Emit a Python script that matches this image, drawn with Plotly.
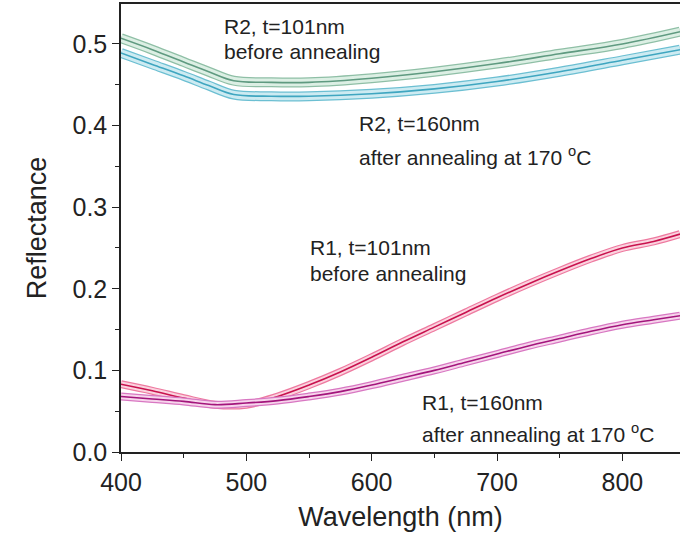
import plotly.graph_objects as go

# ---- data ----
wl_r2 = [400, 425, 450, 470, 490, 520, 550, 600, 650, 700, 750, 800, 846]
r2_before = [0.507, 0.493, 0.478, 0.466, 0.455, 0.453, 0.453, 0.458, 0.466, 0.476, 0.488, 0.500, 0.515]
r2_after = [0.489, 0.475, 0.461, 0.449, 0.438, 0.436, 0.436, 0.439, 0.445, 0.454, 0.466, 0.480, 0.493]

wl_r1 = [400, 425, 450, 475, 500, 525, 550, 575, 600, 625, 650, 675, 700, 725, 750, 775, 800, 825, 846]
r1_before = [0.083, 0.075, 0.066, 0.058, 0.058, 0.068, 0.082, 0.098, 0.116, 0.135, 0.153, 0.171,
             0.189, 0.206, 0.222, 0.237, 0.250, 0.258, 0.267]
r1_after = [0.068, 0.065, 0.062, 0.058, 0.060, 0.063, 0.068, 0.074, 0.082, 0.091, 0.100, 0.110,
            0.120, 0.130, 0.139, 0.148, 0.156, 0.162, 0.167]

labels = [
    ("R2, t=101nm", 480.6, 0.522),
    ("before annealing", 480.6, 0.491),
    ("R2, t=160nm", 588.4, 0.402),
    ("after annealing at 170 <sup>o</sup>C", 588.4, 0.363),
    ("R1, t=101nm", 549.3, 0.250),
    ("before annealing", 549.3, 0.219),
    ("R1, t=160nm", 638.7, 0.061),
    ("after annealing at 170 <sup>o</sup>C", 638.7, 0.023),
]

# ---- styles ----
styles = [
    (wl_r2, r2_before, "#8fbfa6", "#dcefe4", "#5f9a80", 10),
    (wl_r2, r2_after, "#6cbfd2", "#cdebf2", "#3fa6c0", 10),
    (wl_r1, r1_before, "#ee7aa0", "#fbd3df", "#c8124e", 8),
    (wl_r1, r1_after, "#d877c2", "#f7d5ec", "#a3157c", 8),
]

fig = go.Figure()
for xs, ys, edge, fill, core, w in styles:
    fig.add_trace(go.Scatter(x=xs, y=ys, mode="lines", line=dict(color=edge, width=w, shape="spline"),
                             hoverinfo="skip", showlegend=False))
    fig.add_trace(go.Scatter(x=xs, y=ys, mode="lines", line=dict(color=fill, width=w - 2.5, shape="spline"),
                             hoverinfo="skip", showlegend=False))
    fig.add_trace(go.Scatter(x=xs, y=ys, mode="lines", line=dict(color=core, width=1.6, shape="spline"),
                             showlegend=False))

for txt, x, y in labels:
    fig.add_annotation(x=x, y=y, xref="x", yref="y", text=txt, showarrow=False,
                       xanchor="left", yanchor="middle",
                       font=dict(family="Liberation Sans, Arial, sans-serif", size=21, color="#222222"))

tickfont = dict(family="Liberation Sans, Arial, sans-serif", size=25, color="#222222")
titlefont = dict(family="Liberation Sans, Arial, sans-serif", size=27, color="#222222")

fig.update_layout(
    width=680, height=536,
    margin=dict(l=121, r=0, t=4, b=84),
    paper_bgcolor="white", plot_bgcolor="white",
    xaxis=dict(range=[400, 846], dtick=100, tick0=400, showgrid=False, zeroline=False,
               showline=True, linecolor="#222222", linewidth=1.5, mirror=True,
               ticks="outside", ticklen=7, tickwidth=1.2, tickcolor="#222222",
               minor=dict(dtick=50, ticks="outside", ticklen=4, tickcolor="#222222"),
               tickfont=tickfont,
               title=dict(text="Wavelength (nm)", font=titlefont, standoff=12)),
    yaxis=dict(range=[0, 0.549], dtick=0.1, tick0=0, tickformat=".1f", showgrid=False, zeroline=False,
               showline=True, linecolor="#222222", linewidth=1.5,
               ticks="outside", ticklen=7, tickwidth=1.2, tickcolor="#222222",
               minor=dict(dtick=0.05, ticks="outside", ticklen=4, tickcolor="#222222"),
               tickfont=tickfont,
               title=dict(text="Reflectance", font=titlefont, standoff=18)),
)

fig.write_html("out.html")
